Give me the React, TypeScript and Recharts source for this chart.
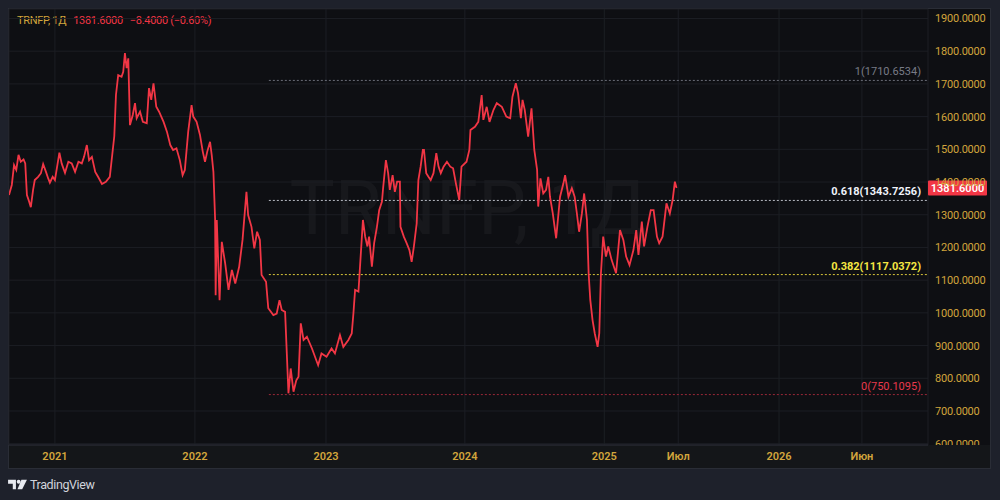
import React from 'react'
import { LineChart, Line, XAxis, YAxis, CartesianGrid, ReferenceLine } from 'recharts'

// session number (daily bars from the first visible bar) and close price
const bars = [
  0, 5, 9, 13, 17, 21, 26, 29, 32, 36, 39, 43, 46, 52, 57, 61, 66, 70, 73, 78,
  82, 90, 94, 100, 106, 112, 118, 124, 130, 134, 139, 143, 148, 154, 159, 166, 173, 180, 188, 191,
  195, 201, 204, 207, 210, 213, 216, 221, 225, 228, 234, 239, 246, 250, 254, 258, 263, 268, 276, 282,
  288, 293, 299, 305, 310, 314, 320, 326, 329, 335, 341, 346, 350, 354, 359, 362, 365, 368, 369, 371,
  376, 380, 386, 392, 398, 404, 411, 417, 424, 427, 433, 438, 443, 448, 451, 459, 463, 472, 478, 483,
  487, 493, 499, 503, 508, 513, 517, 521, 526, 532, 541, 552, 558, 567, 576, 582, 591, 597, 606, 612,
  615, 618, 624, 632, 636, 640, 643, 648, 652, 657, 661, 666, 668, 673, 677, 680, 685, 689, 693, 698,
  699, 705, 710, 715, 719, 723, 728, 731, 735, 739, 741, 745, 749, 753, 758, 763, 767, 771, 776, 782,
  788, 793, 798, 804, 808, 817, 822, 824, 832, 838, 844, 847, 853, 858, 865, 871, 880, 888, 895, 899,
  905, 909, 914, 917, 921, 927, 933, 938, 943, 945, 949, 954, 959, 963, 966, 971, 977, 984, 990, 993,
  999, 1005, 1010, 1014, 1018, 1023, 1027, 1032, 1035, 1038, 1042, 1046, 1051, 1054, 1057, 1061, 1066, 1070, 1076, 1084,
  1091, 1097, 1102, 1108, 1115, 1120, 1124, 1130, 1134, 1140, 1146, 1151, 1157, 1161, 1167, 1174, 1180, 1185, 1189, 1192,
]

const prices = [
  1360, 1391, 1452, 1437, 1483, 1462, 1469, 1457, 1360, 1340, 1323, 1376, 1406, 1416, 1427, 1455, 1431, 1411, 1398, 1416,
  1406, 1490, 1457, 1428, 1462, 1457, 1431, 1462, 1457, 1477, 1513, 1467, 1477, 1431, 1416, 1394, 1401, 1416, 1540, 1666,
  1727, 1722, 1737, 1794, 1748, 1778, 1574, 1605, 1641, 1595, 1615, 1584, 1580, 1687, 1651, 1702, 1630, 1615, 1584, 1554,
  1513, 1498, 1503, 1467, 1421, 1437, 1554, 1635, 1600, 1584, 1544, 1493, 1462, 1493, 1523, 1482, 1431, 1289, 1054, 1284,
  1039, 1217, 1151, 1070, 1131, 1090, 1141, 1223, 1370, 1299, 1263, 1197, 1248, 1223, 1116, 1095, 1014, 993, 998, 1039,
  1009, 1003, 754, 830, 759, 794, 805, 968, 917, 927, 891, 840, 876, 866, 891, 876, 932, 896, 917, 937,
  998, 1070, 1065, 1284, 1233, 1203, 1233, 1141, 1213, 1263, 1314, 1340, 1381, 1467, 1427, 1376, 1421, 1370, 1401, 1401,
  1263, 1233, 1213, 1192, 1156, 1203, 1274, 1406, 1447, 1498, 1498, 1427, 1416, 1406, 1427, 1488, 1447, 1427, 1447, 1462,
  1447, 1442, 1396, 1345, 1447, 1462, 1498, 1559, 1569, 1584, 1666, 1590, 1630, 1584, 1620, 1641, 1630, 1600, 1595, 1661,
  1702, 1671, 1595, 1651, 1620, 1539, 1625, 1498, 1437, 1325, 1411, 1365, 1376, 1416, 1355, 1304, 1228, 1355, 1396, 1421,
  1355, 1381, 1355, 1304, 1248, 1304, 1365, 1284, 1121, 1039, 978, 937, 896, 937, 1121, 1233, 1172, 1203, 1162, 1121,
  1253, 1223, 1172, 1146, 1192, 1253, 1177, 1279, 1203, 1263, 1314, 1314, 1233, 1213, 1233, 1335, 1304, 1345, 1401, 1381.6,
]

const timeTicks = [82, 332, 566, 814, 1063, 1195, 1375, 1523]
const timeLabels = ['2021', '2022', '2023', '2024', '2025', 'Июл', '2026', 'Июн']
const priceTicks = [600, 700, 800, 900, 1000, 1100, 1200, 1300, 1400, 1500, 1600, 1700, 1800, 1900]

const fibRatios = ['1', '0.618', '0.382', '0']
const fibValues = [1710.6534, 1343.7256, 1117.0372, 750.1095]
const fibStartBar = 464
const lastBar = 1641

const symbol = 'TRNFP'
const interval = '1Д'
const lastPrice = 1381.6
const change = -8.4
const changePct = -0.6

const FONT = 'Roboto, "Noto Sans", sans-serif'
const GOLD = '#d2a53c'
const RED = '#f23645'
const fibLineColors = ['#6a6d78', '#b8bbc4', '#d8c53a', '#9a2838']
const fibTextColors = ['#787b86', '#f0f3fa', '#f5e642', '#e8394c']
const fibBold = [false, true, true, false]

const data = bars.map((bar, i) => ({ bar, price: prices[i] }))

function PriceTick({ x, y, payload }: any) {
  return (
    <g clipPath="url(#priceAxisClip)">
      <text x={x} y={y + 4} fill={GOLD} fontSize={11} fontFamily={FONT} letterSpacing={-0.2}>
        {Number(payload.value).toFixed(4)}
      </text>
    </g>
  )
}

function TimeTick({ x, y, payload }: any) {
  const label = timeLabels[timeTicks.indexOf(payload.value)] ?? ''
  return (
    <text x={x} y={y + 15} fill={GOLD} fontSize={11} fontWeight={600} fontFamily={FONT} textAnchor="middle">
      {label}
    </text>
  )
}

function FibLabel({ viewBox, text, color, bold }: any) {
  if (!viewBox) return null
  return (
    <text
      x={viewBox.x + viewBox.width - 7}
      y={viewBox.y - 5}
      fill={color}
      fontSize={11}
      fontWeight={bold ? 700 : 400}
      fontFamily={FONT}
      textAnchor="end"
    >
      {text}
    </text>
  )
}

function LastPriceTag({ viewBox }: any) {
  if (!viewBox) return null
  const x = viewBox.x + viewBox.width
  return (
    <g>
      <rect x={x} y={viewBox.y - 7.5} width={59} height={15} fill={RED} rx={1} />
      <text x={x + 29.5} y={viewBox.y + 4} fill="#ffffff" fontSize={11} fontWeight={600} fontFamily={FONT} textAnchor="middle">
        {lastPrice.toFixed(4)}
      </text>
    </g>
  )
}

function Logo() {
  return (
    <div style={{ position: 'absolute', left: 8, top: 477, display: 'flex', alignItems: 'center', gap: 3 }}>
      <svg width={19} height={11} viewBox="0 0 24 14">
        <path d="M0 1h10v12H6V6H0z" fill="#e8eaf0" />
        <circle cx={13.5} cy={3.5} r={2.5} fill="#e8eaf0" />
        <path d="M17 1h7l-6 12h-6z" fill="#e8eaf0" />
      </svg>
      <span style={{ color: '#d1d4dc', fontSize: 12.5, fontFamily: FONT, letterSpacing: -0.4 }}>TradingView</span>
    </div>
  )
}

export default function App() {
  const sign = change < 0 ? '−' : '+'
  return (
    <div style={{ position: 'absolute', left: 0, top: 0, width: 1000, height: 500, background: '#1e212b', overflow: 'hidden', fontFamily: FONT }}>
      <div style={{ position: 'absolute', left: 8, top: 8, width: 981, height: 459, background: '#0e0f13', border: '1px solid #2a2d36' }} />
      <div style={{ position: 'absolute', left: 9, top: 445, width: 981, height: 23, background: '#141619' }} />
      <div
        style={{
          position: 'absolute',
          left: 9,
          width: 919,
          top: 160,
          textAlign: 'center',
          fontSize: 76,
          lineHeight: '96px',
          color: 'rgba(255,255,255,0.04)',
          fontFamily: FONT,
        }}
      >
        {symbol}, {interval}
      </div>
      <div style={{ position: 'absolute', left: 17, top: 14, fontSize: 11, fontFamily: FONT, whiteSpace: 'pre', letterSpacing: -0.3 }}>
        <span style={{ color: GOLD }}>{symbol}, {interval}</span>
        <span style={{ color: RED, marginLeft: 7 }}>{lastPrice.toFixed(4)}</span>
        <span style={{ color: RED, marginLeft: 7 }}>
          {sign}
          {Math.abs(change).toFixed(4)} ({sign}
          {Math.abs(changePct).toFixed(2)}%)
        </span>
      </div>
      <div style={{ position: 'absolute', left: 0, top: 0 }}>
        <LineChart width={1000} height={500} data={data} margin={{ top: 9, right: 10, bottom: 32, left: 9 }}>
          <defs>
            <clipPath id="priceAxisClip">
              <rect x={0} y={0} width={1000} height={445} />
            </clipPath>
          </defs>
          <CartesianGrid stroke="#1c1e24" strokeWidth={1} />
          <XAxis
            dataKey="bar"
            type="number"
            domain={[0, lastBar]}
            ticks={timeTicks}
            tick={<TimeTick />}
            tickSize={0}
            tickMargin={0}
            tickLine={false}
            axisLine={{ stroke: '#2a2d36' }}
            height={23}
            allowDataOverflow
          />
          <YAxis
            orientation="right"
            type="number"
            domain={[596, 1929]}
            ticks={priceTicks}
            tick={<PriceTick />}
            tickSize={0}
            tickMargin={7}
            tickLine={false}
            axisLine={false}
            width={62}
            allowDataOverflow
            interval={0}
          />
          {fibValues.map((v, i) => (
            <ReferenceLine
              key={fibRatios[i]}
              segment={[
                { x: fibStartBar, y: v },
                { x: lastBar, y: v },
              ]}
              stroke={fibLineColors[i]}
              strokeDasharray="2 2"
              strokeWidth={1}
              label={<FibLabel text={`${fibRatios[i]}(${v.toFixed(4)})`} color={fibTextColors[i]} bold={fibBold[i]} />}
            />
          ))}
          <Line
            type="linear"
            dataKey="price"
            stroke={RED}
            strokeWidth={1.8}
            dot={false}
            isAnimationActive={false}
          />
          <ReferenceLine y={lastPrice} stroke="none" label={<LastPriceTag />} />
        </LineChart>
      </div>
      <Logo />
    </div>
  )
}
